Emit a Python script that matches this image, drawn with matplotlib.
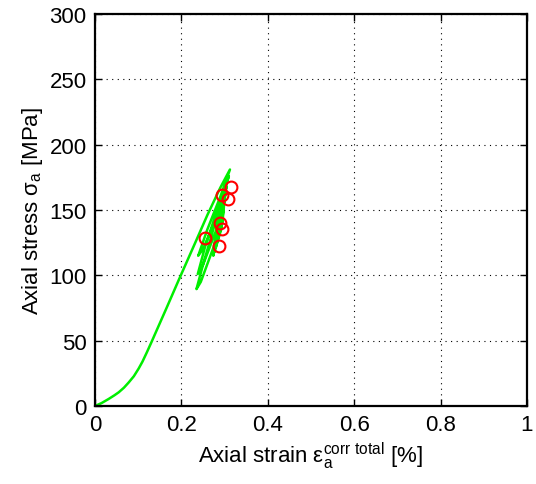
import matplotlib
matplotlib.use("Agg")
import matplotlib.pyplot as plt

plt.rcParams['font.family'] = ['Liberation Sans', 'DejaVu Sans']
plt.rcParams['mathtext.fontset'] = 'custom'
plt.rcParams['mathtext.rm'] = 'Liberation Sans'
plt.rcParams['mathtext.it'] = 'Liberation Sans'
plt.rcParams['mathtext.bf'] = 'Liberation Sans'

# Green stress-strain path (strain %, stress MPa)
strain = [0.0, 0.015, 0.0317, 0.045, 0.055, 0.067, 0.078, 0.09, 0.101, 0.11, 0.12, 0.13, 0.14, 0.165, 0.194, 0.2315,
          0.26, 0.29, 0.3125,
          0.29, 0.26, 0.239,
          0.25, 0.28, 0.31,
          0.285, 0.255, 0.238,
          0.25, 0.28, 0.305,
          0.28, 0.25, 0.235,
          0.245, 0.275, 0.30,
          0.282, 0.274, 0.29, 0.302, 0.285, 0.277, 0.292, 0.298, 0.286, 0.279, 0.295, 0.30, 0.288, 0.28]
stress = [0.0, 2.2, 5.4, 8.2, 10.5, 14.0, 18.0, 22.8, 28.6, 34.0, 41.0, 48.3, 55.8, 74.5, 96.5, 124.5,
          146.0, 167.0, 181.0,
          160.0, 135.0, 115.0,
          120.0, 143.0, 176.0,
          152.0, 122.0, 101.0,
          108.0, 134.0, 168.0,
          142.0, 108.0, 89.5,
          95.0, 122.0, 160.0,
          135.0, 115.0, 140.0, 162.0, 140.0, 118.0, 135.0, 152.0, 132.0, 121.0, 140.0, 158.0, 135.0, 124.0]

# Red circle markers
circ_strain = [0.2546, 0.2864, 0.290, 0.294, 0.293, 0.309, 0.316]
circ_stress = [128.7, 122.4, 140.2, 135.6, 161.6, 158.6, 168.0]

fig = plt.figure(figsize=(5.36, 4.85), dpi=100)
ax = fig.add_axes([0.1772, 0.1608, 0.8058, 0.8082])

ax.plot(strain, stress, color='#00ee00', lw=1.8, solid_joinstyle='round')
ax.plot(circ_strain, circ_stress, 'o', mfc='none', mec='red', mew=1.5, ms=8.5, ls='none')

ax.set_xlim(0, 1)
ax.set_ylim(0, 300)
ax.set_xticks([0, 0.2, 0.4, 0.6, 0.8, 1])
ax.set_xticklabels(['0', '0.2', '0.4', '0.6', '0.8', '1'])
ax.set_yticks([0, 50, 100, 150, 200, 250, 300])
ax.grid(True, color='black', linestyle=(0, (1, 4)), linewidth=0.8)
ax.tick_params(direction='in', top=True, right=True, labelsize=16, length=5, width=1, pad=6)
for s in ax.spines.values():
    s.set_linewidth(1.6)

ax.set_xlabel(r'Axial strain $\mathregular{ε_a^{corr\ total}}$ [%]', fontsize=16, labelpad=3)
ax.set_ylabel(r'Axial stress $\mathregular{σ_a}$ [MPa]', fontsize=16, labelpad=3)

fig.savefig('out.png', dpi=100)
